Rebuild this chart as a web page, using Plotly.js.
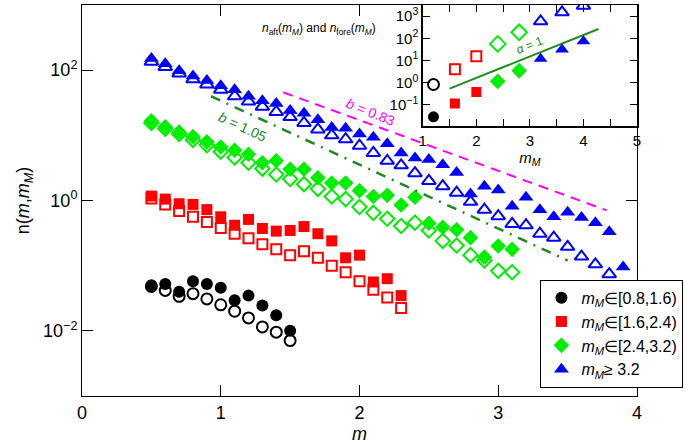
<!DOCTYPE html>
<html>
<head>
<meta charset="utf-8">
<script src="https://cdn.plot.ly/plotly-3.0.1.min.js"></script>
<style>html,body{margin:0;padding:0;background:#fff;}#chart{width:685px;height:444px;}</style>
</head>
<body>
<div id="chart"></div>
<script>
// ---- main panel data: n(m, m_M) ----
const mBlack = [0.5,0.6,0.7,0.8,0.9,1.0,1.1,1.2,1.3,1.4,1.5];
const nBlackAft = [0.0501,0.0525,0.0398,0.0575,0.0525,0.0457,0.0295,0.0347,0.0245,0.0174,0.0100];
const nBlackFore = [0.0479,0.0417,0.0339,0.0372,0.0309,0.0251,0.0200,0.0158,0.0115,0.00955,0.00708];

const mRed = [0.5,0.6,0.7,0.8,0.9,1.0,1.1,1.2,1.3,1.4,1.5,1.6,1.7,1.8,1.9,2.0,2.1,2.2,2.3];
const nRedAft = [1.17,1.05,0.891,0.871,0.724,0.562,0.417,0.513,0.372,0.339,0.347,0.398,0.309,0.240,0.132,0.145,0.0562,0.0631,0.0347];
const nRedFore = [1.07,0.871,0.692,0.562,0.468,0.380,0.309,0.263,0.214,0.178,0.145,0.166,0.132,0.100,0.0794,0.0575,0.0427,0.0324,0.0224];

const mGreen = [0.5,0.6,0.7,0.8,0.9,1.0,1.1,1.2,1.3,1.4,1.5,1.6,1.7,1.8,1.9,2.0,2.1,2.2,2.3,2.4,2.5,2.6,2.7,2.8,2.9,3.0,3.1];
const nGreenAft = [16.6,13.5,11.2,9.55,7.94,6.61,5.89,5.13,3.80,4.07,3.02,3.02,2.24,1.86,1.86,1.41,1.15,1.20,0.851,1.12,0.447,0.389,0.355,0.269,0.135,0.200,0.178];
const nGreenFore = [15.5,12.6,10.5,8.51,7.08,5.62,4.57,3.80,3.09,2.51,2.14,1.78,1.51,1.15,1.05,0.794,0.646,0.525,0.407,0.457,0.347,0.240,0.204,0.145,0.120,0.0832,0.0794];

const mBlueAft = [0.5,0.6,0.7,0.8,0.9,1.0,1.1,1.2,1.3,1.4,1.5,1.6,1.7,1.8,1.9,2.0,2.1,2.2,2.3,2.4,2.5,2.6,2.7,2.8,2.9,3.0,3.1,3.2,3.3,3.4,3.5,3.6,3.7,3.8,3.9];
const nBlueAft = [151,126,97.7,81.3,69.2,57.5,50.1,39.8,33.9,30.9,24.0,21.9,17.4,13.2,12.9,10.5,9.33,7.41,5.37,4.47,4.27,3.55,2.69,1.26,1.66,1.45,0.813,1.12,0.724,0.562,0.661,0.550,0.457,0.331,0.0955];
const mBlueFore = [0.5,0.6,0.7,0.8,0.9,1.0,1.1,1.2,1.3,1.4,1.5,1.6,1.7,1.8,1.9,2.0,2.1,2.2,2.3,2.4,2.5,2.6,2.7,2.8,2.9,3.0,3.1,3.2,3.3,3.4,3.5,3.6,3.7,3.8];
const nBlueFore = [135,112,89.1,72.4,60.3,50.1,39.8,33.1,27.5,22.9,19.1,15.5,12.3,10.0,8.71,6.92,5.37,4.07,3.47,2.63,2.00,1.66,1.32,0.955,0.724,0.575,0.437,0.417,0.309,0.269,0.195,0.138,0.105,0.0741];

// fit lines (end points)
const fit105M = [0.93, 3.5];
const fit105N = [39.8, 0.120];
const fit083M = [1.45, 3.78];
const fit083N = [45.7, 0.708];

// ---- inset data ----
const mMBlack = [1.2], mMRed = [1.6, 2.0], mMGreen = [2.4, 2.8], mMBlue = [3.2, 3.6, 4.0];
const insAftBlack = [0.029], insAftRed = [0.115, 0.38], insAftGreen = [1.15, 3.5], insAftBlue = [12, 31, 74];
const insForeBlack = [0.83], insForeRed = [4.0, 15.5], insForeGreen = [56, 186], insForeBlue = [580, 1480, 2950];
const alphaM = [1.5, 4.28];
const alphaN = [0.54, 263];

// tick labels
const mainXTicks = [0, 1, 2, 3, 4];
const mainYTickVals = [0.01, 1, 100];
const mainYTickText = ['10<sup>−2</sup>', '10<sup>0</sup>', '10<sup>2</sup>'];
const insetXTicks = [1, 2, 3, 4, 5];
const insetYTickVals = [0.1, 1, 10, 100, 1000];
const insetYTickText = ['10<sup>−1</sup>', '10<sup>0</sup>', '10<sup>1</sup>', '10<sup>2</sup>', '10<sup>3</sup>'];

const legendNames = [
  '<i>m<sub>M</sub></i>∈[0.8,1.6)',
  '<i>m<sub>M</sub></i>∈[1.6,2.4)',
  '<i>m<sub>M</sub></i>∈[2.4,3.2)',
  '<i>m<sub>M</sub></i>≥ 3.2'
];

const BLACK = '#000000', RED = '#ff0000', GREEN = '#00ee00', BLUE = '#0000ff';
const FONT = '"Liberation Sans", Arial, Helvetica, sans-serif';

function filled(x, y, sym, col, size, name, show, xa, ya) {
  return {x, y, type: 'scatter', mode: 'markers', name: name || '', showlegend: !!show,
    xaxis: xa || 'x', yaxis: ya || 'y', hoverinfo: 'skip',
    marker: {symbol: sym, color: col, size: size, line: {width: 0}}};
}
function open(x, y, sym, col, size, xa, ya) {
  return {x, y, type: 'scatter', mode: 'markers', showlegend: false,
    xaxis: xa || 'x', yaxis: ya || 'y', hoverinfo: 'skip',
    marker: {symbol: sym + '-open', color: col, size: size, line: {width: 2, color: col}}};
}

const traces = [
  filled(mBlack, nBlackAft, 'circle', BLACK, 12, legendNames[0], true),
  filled(mRed, nRedAft, 'square', RED, 11, legendNames[1], true),
  filled(mGreen, nGreenAft, 'diamond', GREEN, 12, legendNames[2], true),
  filled(mBlueAft, nBlueAft, 'triangle-up', BLUE, 13, legendNames[3], true),
  open(mBlack, nBlackFore, 'circle', BLACK, 11),
  open(mRed, nRedFore, 'square', RED, 10),
  open(mGreen, nGreenFore, 'diamond', GREEN, 11),
  open(mBlueFore, nBlueFore, 'triangle-up', BLUE, 12),
  {x: fit105M, y: fit105N, type: 'scatter', mode: 'lines', showlegend: false, hoverinfo: 'skip',
   line: {color: '#1f8a1f', width: 2.5, dash: '10px,7px,2px,7px'}},
  {x: fit083M, y: fit083N, type: 'scatter', mode: 'lines', showlegend: false, hoverinfo: 'skip',
   line: {color: '#ff00ff', width: 2, dash: '10px,7px'}},
  // inset
  {x: alphaM, y: alphaN, type: 'scatter', mode: 'lines', showlegend: false, hoverinfo: 'skip',
   xaxis: 'x2', yaxis: 'y2', line: {color: '#1f8a1f', width: 2}},
  filled(mMBlack, insAftBlack, 'circle', BLACK, 11, '', false, 'x2', 'y2'),
  filled(mMRed, insAftRed, 'square', RED, 10, '', false, 'x2', 'y2'),
  filled(mMGreen, insAftGreen, 'diamond', GREEN, 12, '', false, 'x2', 'y2'),
  filled(mMBlue, insAftBlue, 'triangle-up', BLUE, 12, '', false, 'x2', 'y2'),
  open(mMBlack, insForeBlack, 'circle', BLACK, 11, 'x2', 'y2'),
  open(mMRed, insForeRed, 'square', RED, 10, 'x2', 'y2'),
  open(mMGreen, insForeGreen, 'diamond', GREEN, 12, 'x2', 'y2'),
  open(mMBlue, insForeBlue, 'triangle-up', BLUE, 12, 'x2', 'y2')
];

const layout = {
  width: 685, height: 444,
  margin: {l: 82, r: 48, t: 5, b: 48, autoexpand: false},
  paper_bgcolor: '#ffffff', plot_bgcolor: '#ffffff',
  font: {family: FONT, size: 18, color: '#000'},
  showlegend: true,
  legend: {x: 0.826, y: 0.297, xanchor: 'left', yanchor: 'top', itemwidth: 30,
    bgcolor: '#ffffff', bordercolor: '#000', borderwidth: 1,
    font: {family: FONT, size: 16, color: '#000'}, tracegroupgap: 0},
  xaxis: {domain: [0, 1], range: [0, 4], tickvals: mainXTicks, ticks: 'inside', ticklen: 11,
    tickcolor: '#000', showline: true, linecolor: '#000', linewidth: 1, mirror: 'ticks',
    showgrid: false, zeroline: false, tickfont: {size: 18},
    title: {text: '<i>m</i>', font: {size: 18}, standoff: 6}},
  yaxis: {domain: [0, 1], type: 'log', range: [-3, 3], tickvals: mainYTickVals, ticktext: mainYTickText,
    ticks: 'inside', ticklen: 11, tickcolor: '#000', showline: true, linecolor: '#000', linewidth: 1,
    mirror: 'ticks', showgrid: false, zeroline: false, tickfont: {size: 18},
    title: {text: 'n(<i>m</i>,<i>m<sub>M</sub></i>)', font: {size: 18}, standoff: 8}},
  xaxis2: {domain: [0.614, 1], anchor: 'y2', range: [1, 5], tickvals: insetXTicks,
    ticks: 'inside', ticklen: 7, tickcolor: '#000', showline: true, linecolor: '#000', linewidth: 1.5,
    minor: {dtick: 0.5, ticks: 'inside', ticklen: 7, tickcolor: '#000', showgrid: false},
    mirror: 'ticks', showgrid: false, zeroline: false, tickfont: {size: 15},
    title: {text: '<i>m<sub>M</sub></i>', font: {size: 15}, standoff: 2}},
  yaxis2: {domain: [0.6905, 1], anchor: 'x2', type: 'log', range: [-1.95, 3.5],
    tickvals: insetYTickVals, ticktext: insetYTickText,
    ticks: 'inside', ticklen: 7, tickcolor: '#000', showline: true,
    linecolor: '#000', linewidth: 1.5, mirror: 'ticks', showgrid: false, zeroline: false,
    tickfont: {size: 15}},
  shapes: [
    {type: 'rect', xref: 'paper', yref: 'paper', x0: 0.614, x1: 1, y0: 0.6905, y1: 1,
     fillcolor: '#ffffff', line: {width: 0}, layer: 'below'}
  ],
  annotations: [
    {x: 1.16, y: Math.log10(13.4), xref: 'x', yref: 'y', text: '<i>b</i> = 1.05', showarrow: false,
     textangle: 25, font: {family: FONT, size: 14, color: '#1f8a1f'}},
    {x: 2.08, y: Math.log10(22.8), xref: 'x', yref: 'y', text: '<i>b</i> = 0.83', showarrow: false,
     textangle: 22, font: {family: FONT, size: 14, color: '#ff00ff'}},
    {x: 3.0, y: Math.log10(48), xref: 'x2', yref: 'y2', text: '<i>α</i> = 1', showarrow: false,
     textangle: -22, font: {family: FONT, size: 12, color: '#1f8a1f'}},
    {x: (378 - 82) / 555, y: (396 - 29) / 391, xref: 'paper', yref: 'paper', xanchor: 'right', yanchor: 'middle',
     text: '<i>n</i><sub>aft</sub>(<i>m<sub>M</sub></i>) and <i>n</i><sub>fore</sub>(<i>m<sub>M</sub></i>)',
     showarrow: false, font: {family: FONT, size: 12, color: '#000'}}
  ]
};

Plotly.newPlot('chart', traces, layout, {displayModeBar: false, staticPlot: true});
</script>
</body>
</html>
